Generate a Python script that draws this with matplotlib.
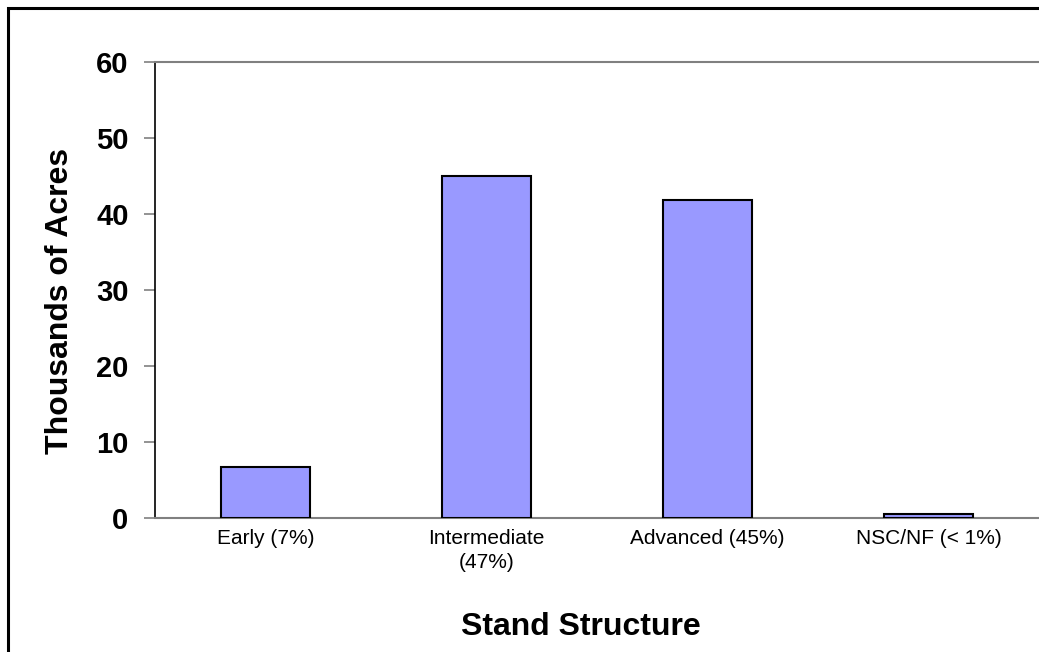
import matplotlib
matplotlib.use("Agg")
import matplotlib.pyplot as plt
from matplotlib.patches import Rectangle

# data
categories = ["Early (7%)", "Intermediate\n(47%)", "Advanced (45%)", "NSC/NF (< 1%)"]
acres = [6.7, 45.0, 41.9, 0.5]
y_ticks = [0, 10, 20, 30, 40, 50, 60]

plt.rcParams['font.family'] = ['Liberation Sans', 'DejaVu Sans']

W, H = 1039, 652
fig = plt.figure(figsize=(W / 100, H / 100), dpi=100)
fig.patch.set_facecolor('white')

# outer border (cut off at right and bottom like the reference)
fig.patches.append(Rectangle((7.5 / W, -0.05), 1.2, (H - 7.5) / H + 0.05,
                             transform=fig.transFigure, fill=False,
                             edgecolor='black', linewidth=2.2))

ax = fig.add_axes([155 / W, (H - 518) / H, (W - 155) / W, 456 / H])

x = range(len(categories))
ax.bar(x, acres, width=0.4, color='#9999FF', edgecolor='black', linewidth=1.5, zorder=3)

ax.set_xlim(-0.5, 3.5)
ax.set_ylim(0, 60)
ax.set_yticks(y_ticks)
ax.set_yticklabels([str(v) for v in y_ticks], fontsize=21, fontweight='bold')
ax.set_xticks(list(x))
ax.set_xticklabels(categories, fontsize=15, linespacing=1.3)

ax.tick_params(axis='y', direction='out', length=8, width=1.2, color='#808080', pad=11)
ax.tick_params(axis='x', length=0, pad=8)

ax.spines['right'].set_visible(False)
ax.spines['top'].set_color('#808080')
ax.spines['top'].set_linewidth(1.5)
ax.spines['bottom'].set_color('#808080')
ax.spines['bottom'].set_linewidth(1.5)
ax.spines['left'].set_color('black')
ax.spines['left'].set_linewidth(1.2)

fig.text(60 / W, 1 - 301 / H, "Thousands of Acres", rotation=90, fontsize=23,
         fontweight='bold', ha='center', va='center')
fig.text(581 / W, 17 / H, "Stand Structure", fontsize=23, fontweight='bold',
         ha='center', va='baseline')

fig.savefig("out.png", dpi=100)
